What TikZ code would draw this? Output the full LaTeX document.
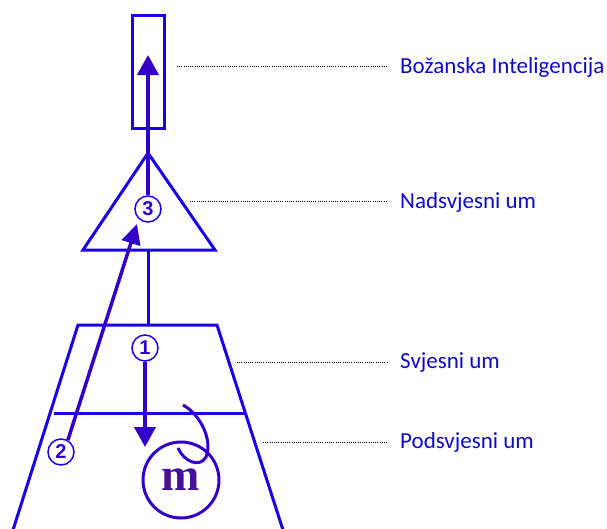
\documentclass[tikz,border=0pt]{standalone}
\usepackage{fontspec}
\setmainfont{Carlito}
\newfontfamily\numfont{Liberation Sans}
\newfontfamily\mfont{Liberation Serif}
\usetikzlibrary{arrows.meta}
\definecolor{lblue}{RGB}{25,0,230}
\definecolor{acol}{RGB}{50,0,200}
\definecolor{tblue}{RGB}{15,10,200}
\definecolor{mcol}{RGB}{70,15,150}
\begin{document}
\begin{tikzpicture}[x=1pt,y=-1pt,
  shapeline/.style={draw=lblue, line width=3pt, line join=miter},
  arr/.style={draw=acol, line width=4pt, -{Triangle[length=20pt,width=21pt]}},
  numc/.style={circle, draw=lblue, line width=1.5pt, fill=white, inner sep=0pt,
    minimum size=26pt, font=\numfont\bfseries\fontsize{20}{20}\selectfont, text=acol},
  lbl/.style={anchor=base west, text=tblue, font=\fontsize{23}{23}\selectfont, inner sep=0pt},
  dots/.style={black, dotted, line width=0.9pt, dash pattern=on 0.9pt off 1.3pt, shorten >=12pt}]
\useasboundingbox (0,0) rectangle (607,528);

% top rectangle
\node[shapeline, minimum width=32pt, minimum height=113pt, inner sep=0pt] (rect) at (148,71.5) {};

% triangle
\coordinate (tA) at (148,153);
\coordinate (tL) at (83,250);
\coordinate (tR) at (215,250);
\coordinate (tB) at (148,250);
\draw[shapeline] (tA) -- (tR) -- (tL) -- cycle;

% trapezoid
\coordinate (zTL) at (78,325);
\coordinate (zTR) at (217,325);
\coordinate (zBR) at (283,530);
\coordinate (zBL) at (13,530);
\coordinate (zT) at (148,325);
\draw[shapeline] (zBL) -- (zTL) -- (zTR) -- (zBR);
\coordinate (hL) at (54,413);
\coordinate (hR) at (244,413);
\draw[shapeline] (hL) -- (hR);
\draw[shapeline] (tB) -- (zT);

% numbered circles
\node[numc] (c3) at (148,209) {3};
\node[numc] (c1) at (145,348) {1};
\node[numc] (c2) at (61,452) {2};

% m circle
\node[circle, draw=acol, line width=3pt, minimum size=76pt, inner sep=0pt,
  font=\mfont\bfseries\fontsize{46}{46}\selectfont, text=mcol] (m) at (181,480) {m};

% hook
\coordinate (hk) at (183,405);
\coordinate (hkEnd) at (178,448);
\draw[draw=acol, line width=3pt] (hk) .. controls (200,414) and (213,440) .. (206,457)
  .. controls (200,468) and (184,462) .. (hkEnd);

% arrows
\coordinate (topTip) at (148,55);
\draw[arr] (c3.north) -- (topTip);
\coordinate (downTip) at (145,447);
\draw[arr] (c1.south) -- (downTip);
\coordinate (tip3) at (137,224);
\draw[arr, line width=3.5pt, -{Triangle[length=20pt,width=19pt]}] (c2.60) -- (tip3);

% labels
\node[lbl] (l1) at (400,73) {Božanska Inteligencija};
\node[lbl] (l2) at (400,208) {Nadsvjesni um};
\node[lbl] (l3) at (400,368) {Svjesni um};
\node[lbl] (l4) at (400,448) {Podsvjesni um};
\coordinate (d1) at (177,66);
\coordinate (d2) at (190,201);
\coordinate (d3) at (237,362);
\coordinate (d4) at (263,442);
\draw[dots] (d1) -- (d1 -| l1.west);
\draw[dots] (d2) -- (d2 -| l2.west);
\draw[dots] (d3) -- (d3 -| l3.west);
\draw[dots] (d4) -- (d4 -| l4.west);
\end{tikzpicture}
\end{document}
